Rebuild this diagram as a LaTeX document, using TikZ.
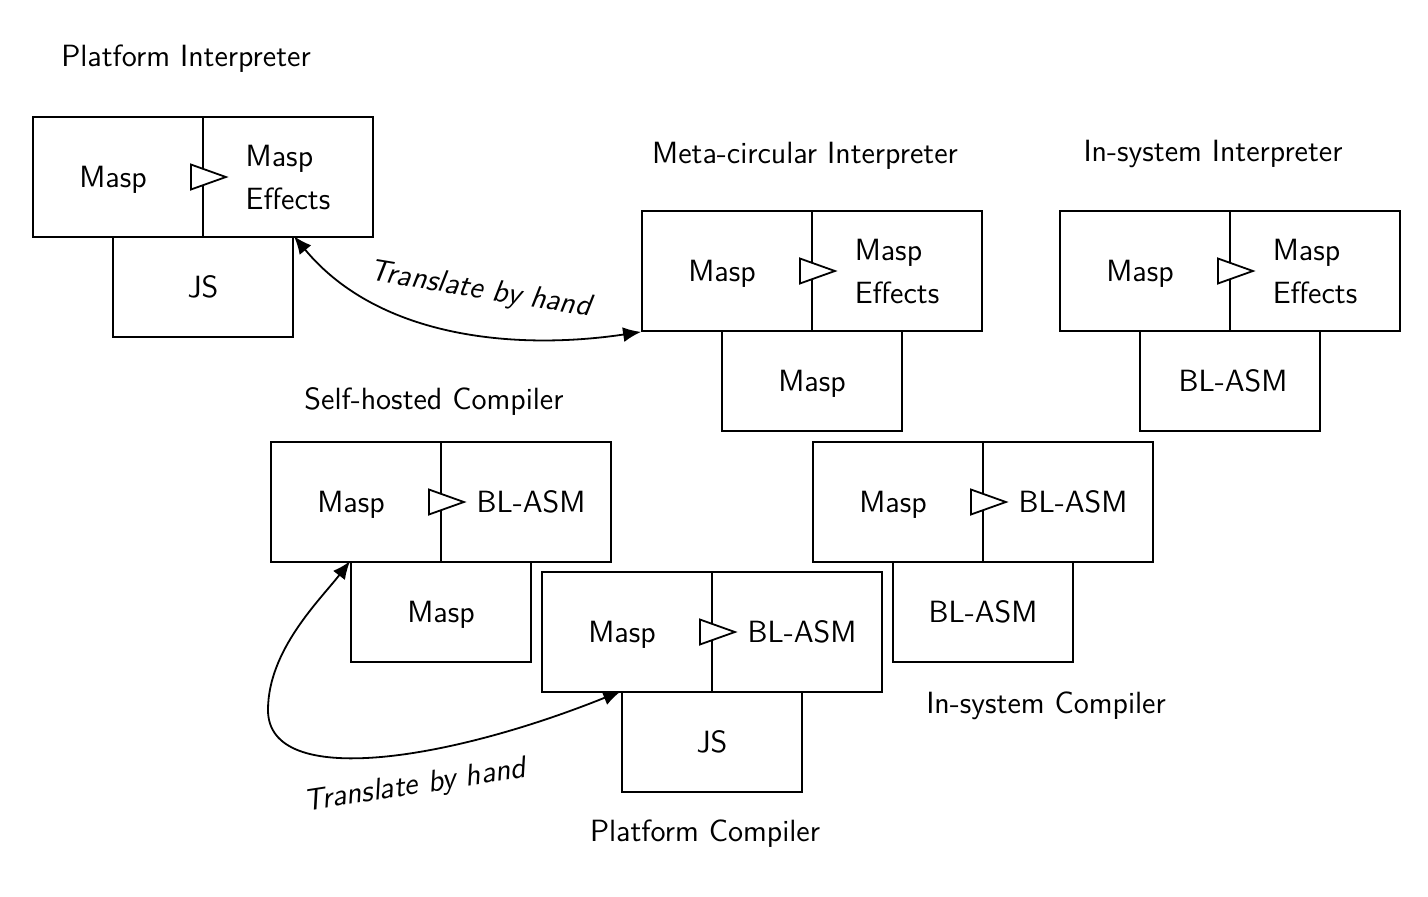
\documentclass[tikz,border=0pt]{standalone}
\usetikzlibrary{arrows.meta}
\begin{document}
\begin{tikzpicture}[x=0.5pt,y=-0.5pt,
  line width=0.9pt,
  every node/.style={font=\sffamily\fontsize{15.35}{21.5}\selectfont},
  half/.style={draw,rectangle,minimum width=85pt,minimum height=60pt,inner sep=0pt,align=left,text depth=0pt},
  base/.style={draw,rectangle,minimum width=90pt,minimum height=50pt,inner sep=0pt,text depth=0pt},
  title/.style={inner sep=0pt,text depth=0pt},
  tri/.style={draw,fill=white,line width=0.9pt,line join=miter},
  conn/.style={{Latex[length=9pt,width=7.5pt]}-{Latex[length=9pt,width=7.5pt]},line width=0.9pt},
  lbl/.style={font=\sffamily\itshape\fontsize{15.35}{21.5}\selectfont,sloped}]
\useasboundingbox (0,0) rectangle (1428,896);

% Platform Interpreter
\node[title] (tPI) at (186,56) {Platform Interpreter};
\node[half] (PIl) at (118,177) {Masp\hspace*{5pt}};
\node[half] (PIr) at (288,177) {Masp\\Effects};
\node[base] (PIb) at (203,287) {JS};

% Meta-circular Interpreter
\node[title] (tMC) at (805,153) {Meta-circular Interpreter};
\node[half] (MCl) at (727,271) {Masp\hspace*{5pt}};
\node[half] (MCr) at (897,271) {Masp\\Effects};
\node[base] (MCb) at (812,381) {Masp};

% In-system Interpreter
\node[title] (tIS) at (1213,151) {In-system Interpreter};
\node[half] (ISl) at (1145,271) {Masp\hspace*{5pt}};
\node[half] (ISr) at (1315,271) {Masp\\Effects};
\node[base] (ISb) at (1230,381) {\hspace*{3pt}BL-ASM};

% Self-hosted Compiler
\node[title] (tSH) at (434,399) {Self-hosted Compiler};
\node[half] (SHl) at (356,502) {Masp\hspace*{5pt}};
\node[half] (SHr) at (526,502) {\hspace*{5pt}BL-ASM};
\node[base] (SHb) at (441,612) {Masp};

% In-system Compiler
\node[half] (ICl) at (898,502) {Masp\hspace*{5pt}};
\node[half] (ICr) at (1068,502) {\hspace*{5pt}BL-ASM};
\node[base] (ICb) at (983,612) {BL-ASM};
\node[title] (tIC) at (1046,703) {In-system Compiler};

% Platform Compiler
\node[half] (PCl) at (627,632) {Masp\hspace*{5pt}};
\node[half] (PCr) at (797,632) {\hspace*{5pt}BL-ASM};
\node[base] (PCb) at (712,742) {JS};
\node[title] (tPC) at (705,831) {Platform Compiler};

% triangles
\foreach \n in {PIl,MCl,ISl,SHl,PCl,ICl}
  \draw[tri] ([xshift=-6.5pt,yshift=6.25pt]\n.east) -- ([xshift=-6.5pt,yshift=-6.25pt]\n.east) -- ([xshift=11pt]\n.east) -- cycle;

% connectors
\draw[conn] (PIb.north east) .. controls (380,340) and (520,350) .. (MCl.south west)
  node[lbl,pos=0.55,above=11pt] {Translate by hand};
\draw[conn] (SHb.north west) .. controls (320,600) and (268,650) .. (268,710)
  .. controls (268,790) and (450,760) .. (PCb.north west)
  node[lbl,pos=0.57,below=6.5pt] {Translate by hand};
\end{tikzpicture}
\end{document}
